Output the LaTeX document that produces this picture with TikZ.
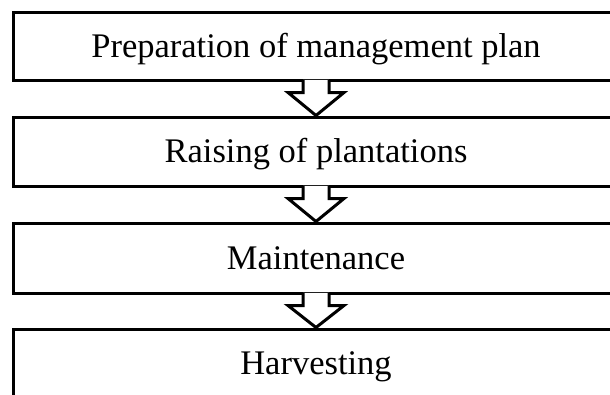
\documentclass[tikz,border=0pt]{standalone}
\usepackage{fontspec}
\setmainfont{Liberation Serif}
\usetikzlibrary{calc}
\tikzset{
  stagebox/.style={draw=black, line width=3pt, minimum width=606pt, minimum height=68pt,
    inner sep=0pt, font=\fontsize{34.5}{40}\selectfont, text height=22.8pt, text depth=0pt},
  blockarrow/.style={draw=black, line width=3pt, line join=miter}
}
\begin{document}
\begin{tikzpicture}[x=1pt, y=-1pt]
\useasboundingbox (0,0) rectangle (610,394);
\clip (0,0) rectangle (610,394);
\node[stagebox] (b1) at (316,46) {Preparation of management plan};
\node[stagebox, minimum height=69pt] (b2) at (316,151.5) {Raising of plantations};
\node[stagebox, minimum height=70pt] (b3) at (316,258) {Maintenance};
\node[stagebox, minimum height=69pt] (b4) at (316,363.5) {Harvesting};
\foreach \a/\b in {b1/b2, b2/b3, b3/b4}{
  \fill[white] ($(\a.south)+(-13,-1.6)$) -- ($(\a.south)+(13,-1.6)$) -- ($(\a.south)+(13,11)$)
     -- ($(\a.south)+(28,11)$) -- (\b.north) -- ($(\a.south)+(-28,11)$) -- ($(\a.south)+(-13,11)$) -- cycle;
  \draw[blockarrow] ($(\a.south)+(-13,-1.6)$) -- ($(\a.south)+(-13,11)$) -- ($(\a.south)+(-28,11)$)
     -- (\b.north) -- ($(\a.south)+(28,11)$) -- ($(\a.south)+(13,11)$) -- ($(\a.south)+(13,-1.6)$);
}
\end{tikzpicture}
\end{document}
